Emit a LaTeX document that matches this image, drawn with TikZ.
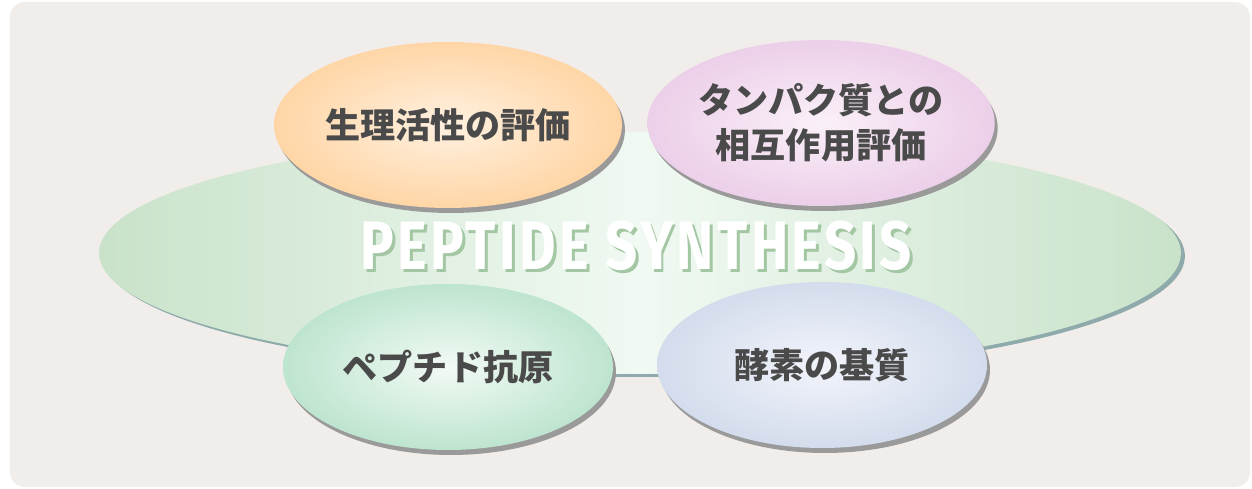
\documentclass[tikz,border=0pt]{standalone}
\usepackage{fontspec}
\newfontfamily\jpfont{Noto Sans CJK JP}
\newfontfamily\titlefont{Fira Sans}[LetterSpace=6]
\usetikzlibrary{shapes.geometric,shadows}
\definecolor{bgbeige}{HTML}{F1EDEA}
\definecolor{hubedge}{HTML}{B2D4B2}
\definecolor{hubmid}{HTML}{C4DFC4}
\definecolor{hubcore}{HTML}{F0F9F2}
\definecolor{hubshadow}{HTML}{8FAAAA}
\definecolor{titleshadow}{HTML}{A3C6A3}
\definecolor{textgrey}{HTML}{4A4A4A}
\definecolor{topicshadow}{HTML}{9A9A9A}
\definecolor{orcore}{HTML}{FFF1E0}
\definecolor{oredge}{HTML}{FFC98C}
\definecolor{pkcore}{HTML}{FAF0F8}
\definecolor{pkedge}{HTML}{E6C0E2}
\definecolor{gncore}{HTML}{F2FAF4}
\definecolor{gnedge}{HTML}{A6DBBF}
\definecolor{blcore}{HTML}{F2F4FB}
\definecolor{bledge}{HTML}{C6D2E6}
\makeatletter
\pgfdeclareradialshading[tikz@radial@inner,tikz@radial@outer]{glow}{\pgfpoint{0bp}{0bp}}{color(0bp)=(tikz@radial@inner); color(36bp)=(tikz@radial@outer); color(50bp)=(tikz@radial@outer)}
\makeatother
\pgfdeclarehorizontalshading{hubfade}{100bp}{color(0bp)=(hubedge); color(22bp)=(hubmid); color(50bp)=(hubcore); color(78bp)=(hubmid); color(100bp)=(hubedge)}
\newcommand\shadedtitle[1]{\makebox[0pt][l]{\kern1.7pt\raisebox{-1.7pt}{\color{titleshadow}\scalebox{0.82}[1]{#1}}}\scalebox{0.82}[1]{#1}}
\tikzstyle{hub} = [ellipse, minimum width=21.64cm, minimum height=4.84cm, inner sep=0pt, shading=hubfade, drop shadow={shadow xshift=0.08cm, shadow yshift=-0.06cm, fill=hubshadow, opacity=1}]
\tikzstyle{titletext} = [inner sep=0pt, text=white, font=\titlefont\bfseries\fontsize{39}{39}\selectfont]
\tikzstyle{topic} = [ellipse, minimum width=6.6cm, minimum height=3.32cm, inner sep=0pt, align=center, text=textgrey, font=\jpfont\bfseries\fontsize{20}{25.5}\selectfont, drop shadow={shadow xshift=0.06cm, shadow yshift=-0.1cm, fill=topicshadow, opacity=1}]

\begin{document}
\begin{tikzpicture}[x=0.02cm, y=-0.02cm]
	\useasboundingbox (0,0) rectangle (1252,489);
	\fill [bgbeige, rounded corners=0.3cm] (10,2) rectangle (1250,487);

	\node (hub) [hub] at (640,253) {};
	\node (title) [titletext] at (636,247) {\shadedtitle{PEPTIDE SYNTHESIS}};

	\node (activity) [topic, inner color=orcore, outer color=oredge, shading=glow] at (448,125) {生理活性の評価};
	\node (binding) [topic, inner color=pkcore, outer color=pkedge, shading=glow] at (821,123) {タンパク質との\\相互作用評価};
	\node (antigen) [topic, inner color=gncore, outer color=gnedge, shading=glow] at (448,367) {ペプチド抗原};
	\node (substrate) [topic, inner color=blcore, outer color=bledge, shading=glow] at (822,365) {酵素の基質};

\end{tikzpicture}
\end{document}
